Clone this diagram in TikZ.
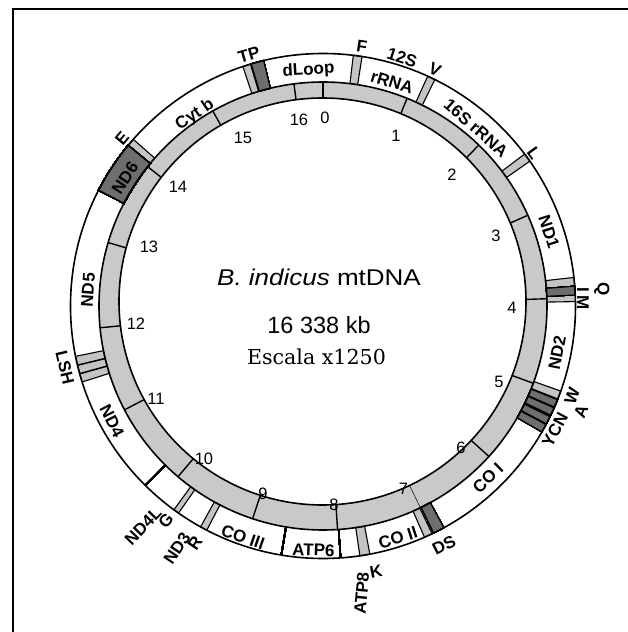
\documentclass[tikz,border=0pt]{standalone}
\usepackage{fontspec}
\setmainfont{Liberation Sans}
\newfontfamily\serifscale{DejaVu Serif}
\usetikzlibrary{calc}
\definecolor{mtring}{HTML}{C9C9C9}
\definecolor{mtlight}{HTML}{C4C4C4}
\definecolor{mtdark}{HTML}{6E6E6E}
\newcommand\rMid{224}
\newcommand\rOut{252.5}
% block of the gene ring, angles clockwise from the top
\newcommand\gblock[3]{\draw[#1] ({90-#2}:\rMid) arc[start angle={90-#2}, end angle={90-#3}, radius=\rMid]
  -- ({90-#3}:\rOut) arc[start angle={90-#3}, end angle={90-#2}, radius=\rOut] -- cycle;}

\begin{document}
\begin{tikzpicture}[x=1pt, y=1pt,
    ring/.style={line width=1.6pt},
    tick/.style={line width=1.4pt},
    gline/.style={line width=1.4pt},
    trnh/.style={fill=mtlight, line width=1.1pt},
    trnl/.style={fill=mtdark, line width=1.1pt},
    ndsix/.style={fill=mtdark, line width=1.4pt},
    glab/.style={font=\bfseries\fontsize{17}{17}\selectfont, inner sep=0pt},
    nlab/.style={font=\fontsize{16.5}{16.5}\selectfont, inner sep=0pt}]
  \useasboundingbox (-323,-326) rectangle (305,306);
  \draw[line width=1.8pt] (-310.2,-326) -- (-310.2,297) -- (305,297);
  % scale ring
  \fill[mtring] (0,0) circle[radius=\rMid];
  \foreach \k in {0,...,6,8,9,...,16} \draw[tick] ({90-22.0345*\k}:180) -- ({90-22.0345*\k}:\rMid);
  \draw[line width=.5pt] ({90-22.0345*7}:180) -- ({90-22.0345*7}:\rMid);
  \filldraw[fill=white, ring] (-0.5,4.5) circle[radius=203.5];
  % tRNAs and ND6
  \foreach \a/\b in {6.9/8.9, 24.5/26.3, 53/55, 83.5/85.5, 87.5/89, 109.7/111.6, 154.4/156.3,
      169.3/171.6, 207.4/209, 214.9/216.2, 252.5/254.4, 254.5/256.4, 256.5/258.5, 309.5/311.3, 341.5/343.3}
    \gblock{trnh}{\a}{\b}
  \foreach \a/\b in {85.5/87.5, 111.8/113.6, 113.8/115.6, 116/117.8, 118/119.9, 151.4/154, 343.5/346.4}
    \gblock{trnl}{\a}{\b}
  \gblock{ndsix}{297.3}{309.5}
  \foreach \a in {176, 189.5, 224.7} \draw[gline] ({90-\a}:\rMid) -- ({90-\a}:\rOut);
  \draw[ring] (0,0) circle[radius=\rMid];
  \draw[ring] (0,0) circle[radius=\rOut];
  % kb marks
  \foreach \n/\x/\y in {0/2/188, 1/73/170, 2/129/131, 3/173/70, 4/189/-2, 5/176/-76, 6/138/-142,
      7/80.5/-183, 8/11/-199, 9/-60/-188, 10/-119/-153, 11/-167/-93, 12/-187/-18, 13/-174/59.5,
      14/-145/119.5, 15/-80/168.5, 16/-24/186.5}
    \node[nlab] (k\n) at (\x,\y) {\n};
  % gene names
  \foreach \nm/\x/\y/\r/\t in {dloop/-14.5/235.5/3.5/dLoop, rrnas/69/224/-17/rRNA, twelve/79/248/-18/12S,
      phe/39/260/-8.5/F, val/112/236/-25/V, rrnal/153/178/-41/16S rRNA, leu/211/153/-54/L,
      ndone/226/74/-72/ND1, ile/260/16/-90/I, met/260/3/-90/M, gln/279/17/-90/Q,
      ndtwo/234/-47/79/ND2, trp/249/-90/70/W, ala/258/-106/68/A, ycn/232/-124/62/YCN,
      coone/165/-172/44.4/CO I, ds/121/-239/27/DS, cotwo/75/-232/18/CO II, lys/53/-266/11/K,
      atpsix/-9.5/-244/-2.2/ATP6, cothree/-80/-231/-19/CO III, ndthree/-146/-242/56/ND3,
      arg/-128/-237/56/R, gly/-157/-215/50/G, ndfourl/-180/-220/46/ND4L, ndfour/-211/-115/-63/ND4,
      lsh/-258/-62/-77/LSH, ndfive/-235/16/86/ND5, ndsixl/-198/128/57/ND6, glu/-201/168/50/E,
      cytb/-128/191/34/Cyt b, tp/-74/251/16/TP}
    \node[glab, rotate=\r] (\nm) at (\x,\y) {\t};
  \node[glab, rotate=85, anchor=east] (atpeight) at (40.5,-266) {ATP8};
  % centre
  \node[font=\fontsize{22.8}{24}\selectfont, xscale=1.14] (title) at (-4,28.5) {\textit{B. indicus} mtDNA};
  \node[font=\fontsize{23.5}{24}\selectfont] (size) at (-4,-19) {16 338 kb};
  \node[font=\serifscale\fontsize{20.6}{22}\selectfont] (scale) at (-6.5,-51) {Escala x1250};
\end{tikzpicture}
\end{document}
